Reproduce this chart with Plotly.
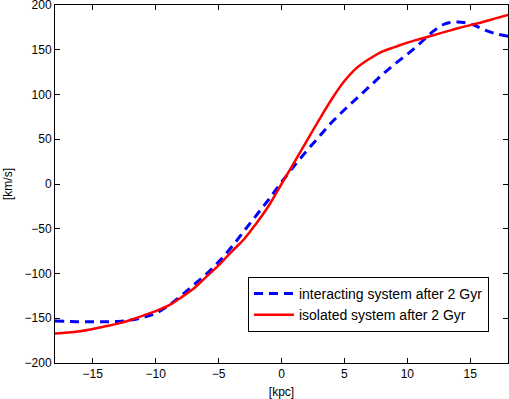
import plotly.graph_objects as go

# radius [kpc]
radius = [-18, -17, -16, -15, -14, -13, -12, -11, -10, -9, -8, -7, -6, -5, -4, -3, -2, -1,
          0, 1, 2, 3, 4, 5, 6, 7, 8, 9, 10, 11, 12, 13, 14, 15, 16, 17, 18]

# rotation velocity [km/s]
v_interacting = [-153, -153.5, -154, -154, -154, -153.5, -152, -149, -144.5, -136, -125,
                 -113, -101, -87, -71, -53, -35, -17, 2, 20, 37, 53, 69, 83, 96, 109,
                 122, 134, 145, 157, 170, 179, 181, 179, 173, 168, 165]
v_isolated = [-167, -166, -164.5, -162, -159, -156, -152, -147, -142, -136, -127, -117,
              -104, -91, -76, -62, -44, -24, 0, 24, 48, 72, 95, 115, 130, 140, 148,
              153, 158, 162, 166, 170, 174, 177.5, 181, 185, 189]

fig = go.Figure()
fig.add_trace(go.Scatter(
    x=radius, y=v_interacting, mode="lines", line_shape="spline",
    name="interacting system after 2 Gyr",
    line=dict(color="#0000ff", width=3, dash="9px,6px")
))
fig.add_trace(go.Scatter(
    x=radius, y=v_isolated, mode="lines", line_shape="spline",
    name="isolated system after 2 Gyr",
    line=dict(color="#ff0000", width=2.5)
))

axis_style = dict(
    showgrid=False, zeroline=False, showline=True, linecolor="black", linewidth=1,
    mirror="ticks", ticks="inside", ticklen=5, tickcolor="black",
    tickfont=dict(size=12, color="black"), ticklabeloverflow="allow",
)

fig.update_xaxes(range=[-18, 18], tickvals=[-15, -10, -5, 0, 5, 10, 15],
                 title=dict(text="[kpc]", standoff=7, font=dict(size=12, color="black")),
                 **axis_style)
fig.update_yaxes(range=[-200, 200], dtick=50,
                 title=dict(text="[km/s]", standoff=9, font=dict(size=12, color="black")),
                 **axis_style)

fig.update_layout(
    width=509, height=399,
    margin=dict(l=55, r=1, t=5, b=36, autoexpand=False),
    plot_bgcolor="white", paper_bgcolor="white",
    font=dict(family="Liberation Sans, Arial, sans-serif", color="black"),
    legend=dict(x=0.958, y=0.087, xanchor="right", yanchor="bottom",
                bgcolor="white", bordercolor="black", borderwidth=1,
                font=dict(size=14), tracegroupgap=0, itemwidth=40),
    showlegend=True,
)

# page body has a default 8px margin; drop it so the 509x399 figure fills the window
fig.write_html("out.html", config={"displayModeBar": False},
               post_script="document.body.style.margin='0';document.body.style.overflow='hidden';")
